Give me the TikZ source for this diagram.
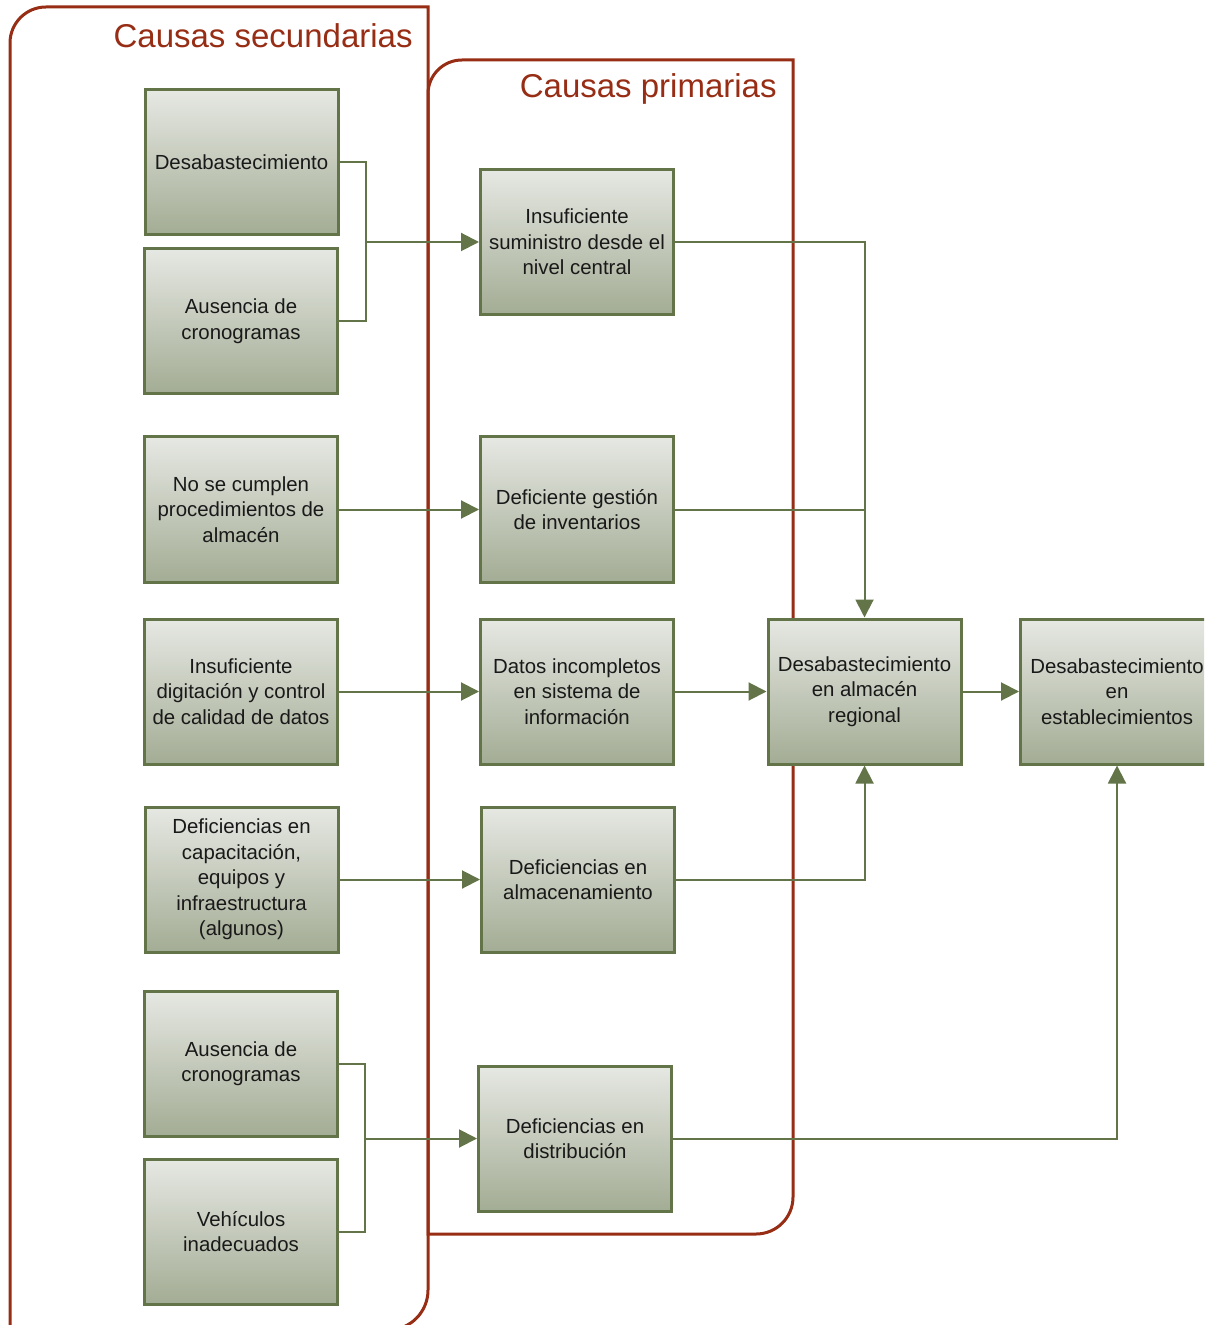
\documentclass[tikz,border=0pt]{standalone}
\usepackage{fontspec}
\setmainfont{Liberation Sans}
\usetikzlibrary{arrows.meta}
\definecolor{frameRed}{HTML}{962D14}
\definecolor{boxGreen}{HTML}{627448}
\definecolor{topC}{HTML}{E6E8E3}
\definecolor{botC}{HTML}{A3AC94}
\tikzset{
 box/.style={draw=boxGreen, line width=1.5pt, top color=topC, bottom color=botC, minimum width=96.5pt, minimum height=72.5pt, inner sep=0pt, align=center, font=\fontsize{10.2}{12.75}\selectfont, text=black!90},
 conn/.style={draw=boxGreen, line width=1pt},
 arr/.style={conn, -{Triangle[length=9pt,width=9pt]}},
 frame/.style={draw=frameRed, line width=1.5pt},
 titletext/.style={text=frameRed, font=\fontsize{16.5}{20}\selectfont, anchor=east, inner sep=0pt},
}
\begin{document}
\begin{tikzpicture}[x=0.5pt,y=-0.5pt]
\useasboundingbox (0,0) rectangle (1204,1325);
\clip (0,0) rectangle (1204,1325);
% frames
\draw[frame] (10,1400) -- (10,43) to[out=90,in=180] (46,7) -- (428,7) -- (428,1290) to[out=-90,in=0] (388,1330) -- (0,1330);
\draw[frame] (428,1234) -- (756,1234) to[out=0,in=-90] (793,1197) -- (793,60) -- (462,60) to[out=180,in=90] (428,94) -- cycle;
\node[titletext] (t1) at (413,36) {Causas secundarias};
\node[titletext] (t2) at (777,89) {Causas primarias};
% left column
\node[box] (B1) at (241.5,162.5) {Desabastecimiento};
\node[box] (B2) at (241,321) {Ausencia de\\cronogramas};
\node[box] (B3) at (241,509.5) {No se cumplen\\procedimientos de\\almacén};
\node[box] (B4) at (241,691.5) {Insuficiente\\digitación y control\\de calidad de datos};
\node[box] (B5) at (241.5,879.5) {Deficiencias en\\capacitación,\\equipos y\\infraestructura\\(algunos)};
\node[box] (B6) at (241,1063.5) {Ausencia de\\cronogramas};
\node[box] (B7) at (241,1231.5) {Vehículos\\inadecuados};
% middle column
\node[box] (M1) at (577,242) {Insuficiente\\suministro desde el\\nivel central};
\node[box] (M2) at (577,509.5) {Deficiente gestión\\de inventarios};
\node[box] (M3) at (577,691.5) {Datos incompletos\\en sistema de\\información};
\node[box] (M4) at (578,879.5) {Deficiencias en\\almacenamiento};
\node[box] (M5) at (575,1138.5) {Deficiencias en\\distribución};
% right
\node[box] (R1) at (864.5,691.5) {Desabastecimiento\\en almacén\\regional};
\node[box] (R2) at (1117,691.5) {Desabastecimiento\\en\\establecimientos};
% connectors
\coordinate (j1) at (366,242);
\draw[conn] (B1.east) -| (j1);
\draw[conn] (B2.east) -| (j1);
\draw[arr] (j1) -- (j1 -| M1.west);
\draw[arr] (M1.east) -| (R1.north);
\draw[conn] (M2.east) -- (M2.east -| R1.north);
\draw[arr] (B3.east) -- (M2.west);
\draw[arr] (B4.east) -- (M3.west);
\draw[arr] (M3.east) -- (R1.west);
\draw[arr] (B5.east) -- (M4.west);
\draw[arr] (M4.east) -| (R1.south);
\coordinate (j2) at (365,1138.5);
\draw[conn] (B6.east) -| (j2);
\draw[conn] (B7.east) -| (j2);
\draw[arr] (j2) -- (j2 -| M5.west);
\draw[arr] (M5.east) -| (R2.south);
\draw[arr] (R1.east) -- (R2.west);
\end{tikzpicture}
\end{document}
